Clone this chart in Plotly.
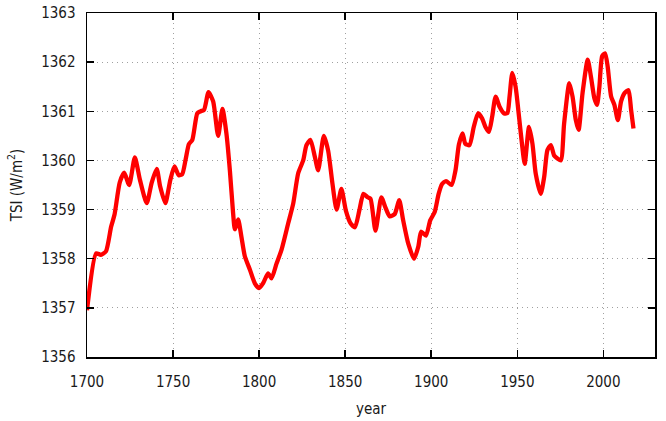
import plotly.graph_objects as go

years = [1700, 1705.3, 1708, 1711, 1714, 1716, 1719, 1721.6, 1724.5, 1727.8, 1730.8, 1734.7,
         1737.6, 1740.5, 1742.5, 1745.5, 1748.4, 1750.8, 1753.3, 1755.3, 1757.3, 1759.2, 1761.2,
         1764.1, 1766, 1768, 1770.6, 1773.3, 1776.2, 1778.7, 1781, 1783, 1784.9, 1785.9, 1787.8,
         1789.7, 1791.7, 1794.6, 1797.5, 1800, 1802.3, 1805.2, 1807.2, 1810.1, 1813, 1816.9,
         1819.8, 1822.7, 1825.6, 1827.5, 1829.8, 1832.4, 1834.3, 1837.6, 1840.1, 1842.6, 1845,
         1847.8, 1850.4, 1853.3, 1855.7, 1858.2, 1860.6, 1863.1, 1864.7, 1867.6, 1871, 1873.3,
         1875.9, 1878.8, 1881.4, 1883.7, 1886.7, 1890, 1892.5, 1894.1, 1896.9, 1899.4, 1902,
         1904.3, 1906.3, 1908.6, 1911.8, 1914.1, 1916.1, 1918.2, 1919.8, 1922.2, 1924.7, 1927.2,
         1929.6, 1931.5, 1933.5, 1935.4, 1937.4, 1939.7, 1942.2, 1944.2, 1945.5, 1947.1, 1949,
         1951, 1952.9, 1954.3, 1956.8, 1958.8, 1960.7, 1963.6, 1965.6, 1967.5, 1969.5, 1971.4,
         1973.3, 1975.3, 1977.2, 1980.2, 1982.1, 1984, 1985.6, 1987.9, 1990.9, 1992.8, 1994.8,
         1996.3, 1997.7, 1999.3, 2001, 2002.5, 2004.5, 2006.4, 2008.4, 2010.3, 2012.3, 2014.6,
         2016.1, 2017.5]

tsi = [1356.95, 1358.11, 1358.08, 1358.15, 1358.65, 1358.9, 1359.55, 1359.75, 1359.5, 1360.06,
       1359.6, 1359.13, 1359.55, 1359.83, 1359.47, 1359.13, 1359.6, 1359.88, 1359.7, 1359.72,
       1360.02, 1360.33, 1360.42, 1360.96, 1361.0, 1361.03, 1361.39, 1361.2, 1360.5, 1361.05,
       1360.55, 1359.8, 1358.92, 1358.6, 1358.8, 1358.45, 1358.05, 1357.78, 1357.5, 1357.4,
       1357.5, 1357.7, 1357.6, 1357.9, 1358.18, 1358.72, 1359.12, 1359.74, 1360.0, 1360.31,
       1360.42, 1360.07, 1359.8, 1360.5, 1360.2, 1359.53, 1359.0, 1359.42, 1358.98, 1358.71,
       1358.64, 1358.98, 1359.32, 1359.25, 1359.22, 1358.57, 1359.25, 1359.05, 1358.86, 1358.91,
       1359.19, 1358.78, 1358.3, 1358.0, 1358.25, 1358.55, 1358.47, 1358.78, 1358.95, 1359.32,
       1359.52, 1359.58, 1359.5, 1359.8, 1360.33, 1360.55, 1360.34, 1360.31, 1360.68, 1360.96,
       1360.85, 1360.68, 1360.58, 1360.89, 1361.3, 1361.09, 1360.96, 1360.96, 1361.3, 1361.78,
       1361.5, 1360.89, 1360.28, 1359.93, 1360.68, 1360.34, 1359.73, 1359.32, 1359.66, 1360.21,
       1360.31, 1360.1, 1360.04, 1360.0, 1360.75, 1361.57, 1361.3, 1360.82, 1360.62, 1361.37,
       1362.05, 1361.7, 1361.26, 1361.13, 1361.5, 1362.12, 1362.18, 1361.91, 1361.3, 1361.13,
       1360.82, 1361.2, 1361.37, 1361.43, 1361.03, 1360.65]

x_ticks = [1700, 1750, 1800, 1850, 1900, 1950, 2000]
y_ticks = [1356, 1357, 1358, 1359, 1360, 1361, 1362, 1363]

FONT = "DejaVu Sans Condensed, Liberation Sans, sans-serif"
FSIZE = 15
TXT = "#1a1a1a"

fig = go.Figure()
fig.add_trace(go.Scatter(
    x=years, y=tsi, mode="lines",
    line=dict(color="#ff0000", width=4.3, shape="spline", smoothing=0.6),
    showlegend=False, hoverinfo="skip",
))

axis_common = dict(
    showline=True, linecolor="black", linewidth=1.5, mirror="ticks",
    ticks="inside", ticklen=7, tickwidth=1.5, tickcolor="black",
    showgrid=True, gridcolor="#a0a0a0", gridwidth=1, griddash="1px,4px",
    zeroline=False,
    tickfont=dict(family=FONT, size=FSIZE, color=TXT),
    title_font=dict(family=FONT, size=FSIZE, color=TXT),
)

fig.update_xaxes(range=[1700, 2030], tickvals=x_ticks, ticktext=[str(v) for v in x_ticks],
                 ticklabelstandoff=10, title_text="year", title_standoff=14, **axis_common)
fig.update_yaxes(range=[1356, 1363], tickvals=y_ticks, ticktext=[str(v) for v in y_ticks],
                 ticklabelstandoff=7, title_text="TSI (W/m<sup>2</sup>)", title_standoff=15,
                 **axis_common)

fig.update_layout(
    width=666, height=421,
    margin=dict(l=87, r=11, t=13, b=64, autoexpand=False),
    paper_bgcolor="white", plot_bgcolor="white",
    font=dict(family=FONT, size=FSIZE),
)

fig.write_html("out.html", config={"displayModeBar": False, "staticPlot": True},
               post_script="document.body.style.margin='0';document.body.style.padding='0';")
